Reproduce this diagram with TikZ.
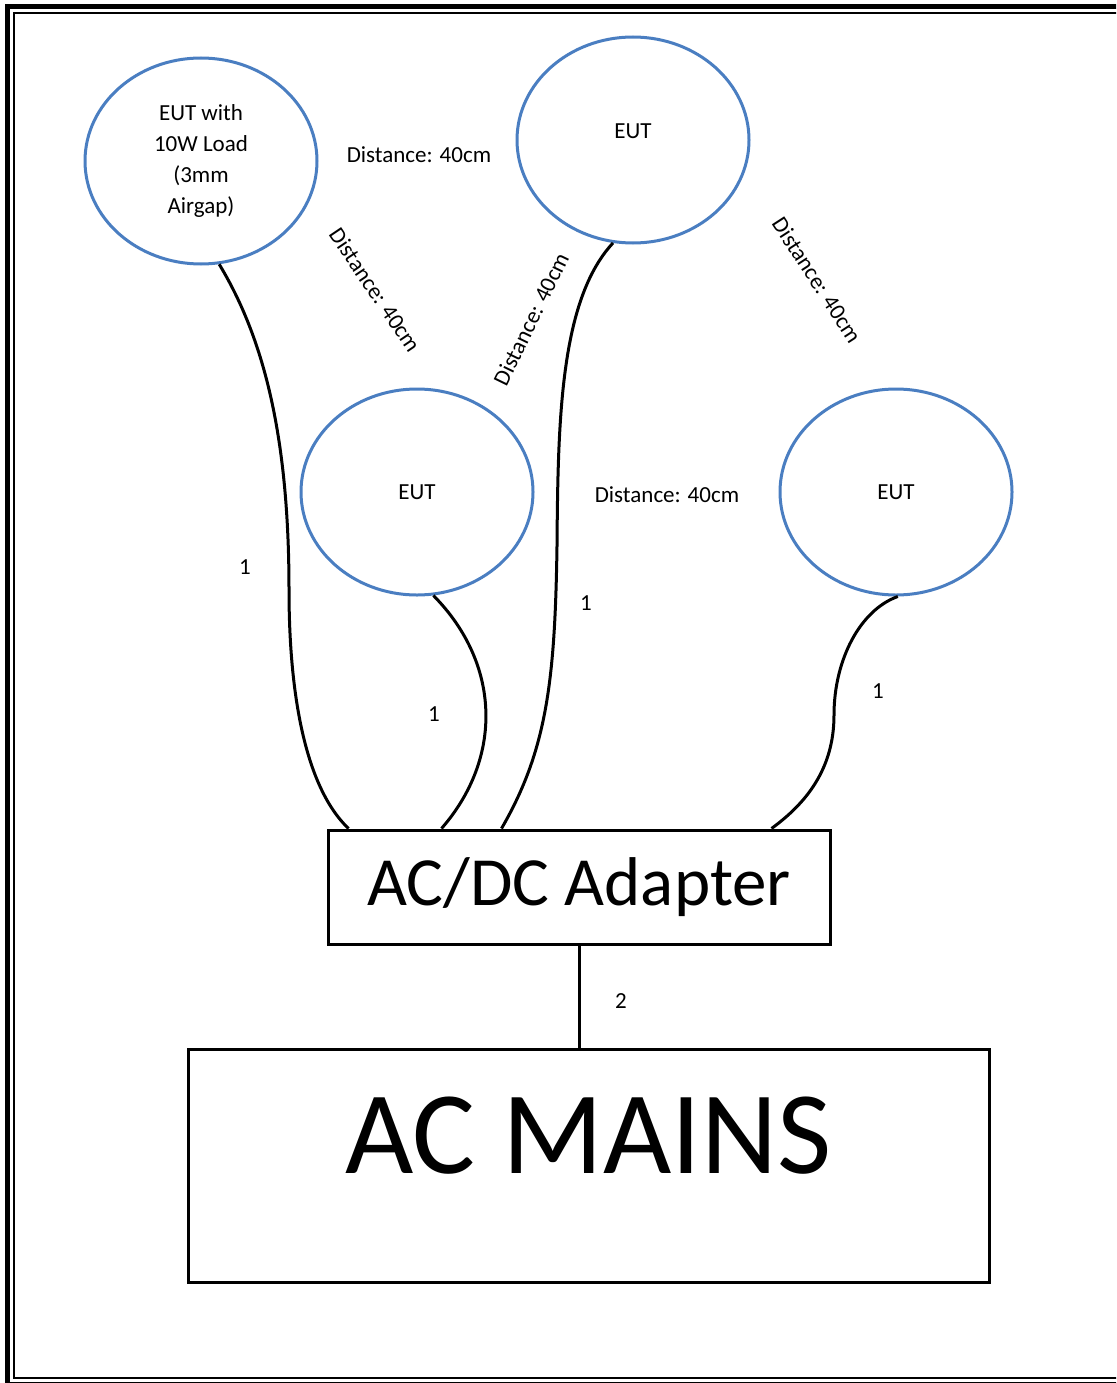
\documentclass[tikz,border=0pt]{standalone}
\usepackage{fontspec}
\setmainfont{Carlito}
\usetikzlibrary{shapes.geometric}
\definecolor{eutblue}{RGB}{74,126,193}

\begin{document}
\begin{tikzpicture}[x=1pt,y=-1pt,
    eut/.style={ellipse,draw=eutblue,line width=3pt,minimum width=232pt,minimum height=206pt,
      inner sep=0pt,align=center,font=\fontsize{23}{31.3}\selectfont},
    dist/.style={inner sep=0pt,font=\fontsize{23}{28}\selectfont},
    cablenum/.style={inner sep=0pt,font=\fontsize{23}{28}\selectfont},
    cable/.style={line width=3pt},
    box/.style={draw,line width=3pt,inner sep=0pt}]
    \useasboundingbox (0,0) rectangle (1116,1383);
    \clip (0,0) rectangle (1116,1383);
    \draw [line width=5pt] (7.5,6.5) rectangle (1130,1384);
    \draw [line width=2pt] (14,13) rectangle (1120,1378);

    \node [eut] (eutload) at (201,161) {EUT with\\10W Load\\(3mm\\Airgap)};
    \node [eut,text depth=18pt] (euttop) at (633,140) {EUT};
    \node [eut] (eutmid) at (417,492) {EUT};
    \node [eut] (eutright) at (896,492) {EUT};

    \node [dist] (disttop) at (419,155) {Distance: 40cm};
    \node [dist] (distmid) at (667,495) {Distance: 40cm};
    \node [dist,rotate=-56] (distleft) at (375,290) {Distance: 40cm};
    \node [dist,rotate=64] (distcentre) at (531,319) {Distance: 40cm};
    \node [dist,rotate=-57] (distright) at (817,280) {Distance: 40cm};

    \node [box,minimum width=502pt,minimum height=114pt,font=\fontsize{69}{80}\selectfont]
      (adapter) at (579,887) {AC/DC Adapter};
    \node [box,minimum width=801pt,minimum height=233pt,font=\fontsize{118}{130}\selectfont,
      text height=76pt,text depth=61pt] (mains) at (588.5,1165.5) {AC MAINS};

    \draw [cable] (eutload.-80) .. controls (265,340) and (289,440) .. (289,590)
      .. controls (289,690) and (304,786) .. ([xshift=22pt]adapter.north west);
    \draw [cable] (eutmid.-81) .. controls (501,664) and (503,758) .. ([xshift=115pt]adapter.north west);
    \draw [cable] (euttop.-101) .. controls (560,300) and (558,420) .. (557,546)
      .. controls (555,680) and (547,750) .. ([xshift=175pt]adapter.north west);
    \draw [cable] (eutright.-89) .. controls (860,610) and (834,660) .. (834,715)
      .. controls (834,770) and (805,804) .. ([xshift=445pt]adapter.north west);
    \draw [cable] (adapter.south) -- (adapter.south |- mains.north);

    \node [cablenum] (numload) at (245,567) {1};
    \node [cablenum] (nummid) at (434,714) {1};
    \node [cablenum] (numtop) at (586,603) {1};
    \node [cablenum] (numright) at (878,691) {1};
    \node [cablenum] (nummains) at (621,1001) {2};
  \end{tikzpicture}
\end{document}
